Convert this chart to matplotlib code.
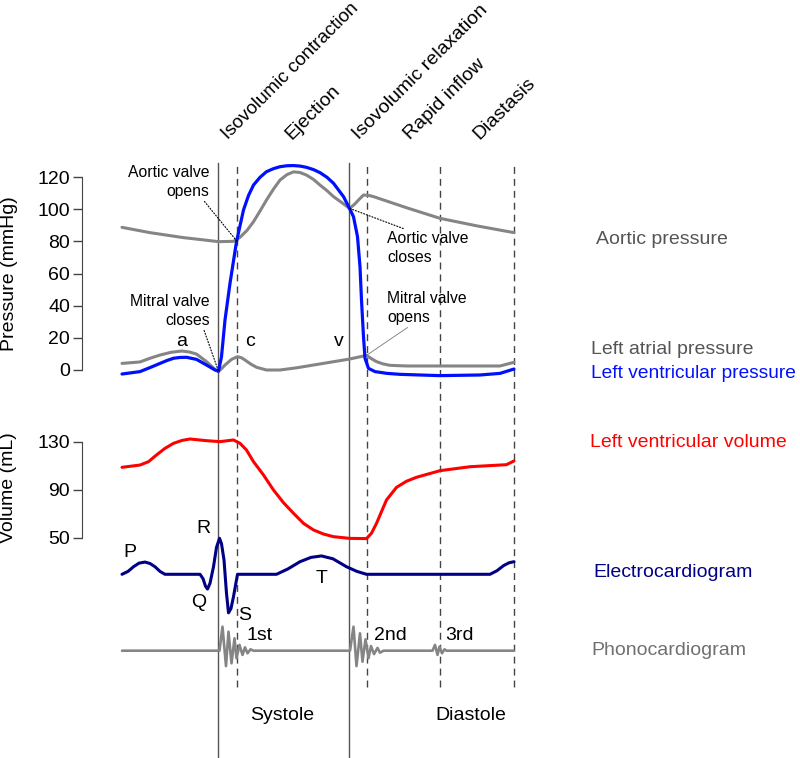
import numpy as np
import matplotlib.pyplot as plt

plt.rcParams['font.family'] = ['Liberation Sans', 'DejaVu Sans']

W, H = 800, 758
T0, T1 = -244, 1356          # time (ms) at left / right edge of the figure

GRAY = "#858585"
BLUE = "#0010ff"
RED = "#ff0000"
NAVY = "#000085"
LINE = "#555555"

# phase boundaries (ms)
t_solid = [192, 454]
t_dash = [230, 490, 636, 784]

# aortic pressure (mmHg)
ao_t = [0, 56, 123, 160, 193, 223, 236, 250, 263, 276, 289, 303, 316, 330, 343, 356,
        369, 383, 396, 410, 423, 440, 455, 465, 473, 483, 493, 503, 570, 636, 710, 784]
ao_p = [88.7, 85.4, 82.3, 81.0, 79.8, 80.0, 82.5, 86.8, 92.2, 98.8, 105.7, 112.5, 118.1,
        121.5, 123.2, 122.8, 121.2, 118.5, 115.0, 111.5, 107.8, 104.0, 100.5, 103.0,
        105.7, 108.8, 108.6, 107.8, 100.8, 94.3, 89.6, 85.4]

# left atrial pressure (mmHg)
la_t = [0, 36, 56, 76, 98, 119, 135, 149, 169, 186, 193, 199, 206, 219, 231, 239, 246,
        258, 269, 289, 316, 350, 383, 420, 455, 489, 499, 509, 522, 536, 569, 660, 756, 784]
la_p = [4.1, 5.0, 7.3, 9.3, 11.0, 11.8, 11.2, 9.9, 5.2, 0.4, -0.8, 0.8, 3.1, 6.6, 8.3,
        7.6, 6.2, 3.6, 1.7, 0.0, 0.0, 1.4, 3.1, 5.0, 6.8, 9.1, 7.0, 5.2, 3.8, 2.9, 2.5,
        2.5, 2.5, 4.8]

# left ventricular pressure (mmHg)
lv_t = [0, 36, 56, 76, 90, 103, 116, 129, 149, 169, 186, 193, 199, 206, 216, 229, 243,
        253, 263, 276, 289, 303, 316, 330, 343, 356, 369, 383, 396, 410, 423, 443, 455,
        463, 471, 476, 479, 483, 486, 493, 506, 530, 556, 636, 716, 756, 784]
lv_p = [-2.5, -1.0, 1.5, 4.1, 5.9, 7.3, 7.8, 7.9, 6.6, 3.1, 0.0, -0.8, 8.3, 31.1, 53.9,
        79.8, 99.5, 108.5, 115.0, 119.8, 123.3, 125.2, 126.4, 127.0, 127.1, 126.8, 126.0,
        124.6, 122.7, 119.8, 116.1, 107.8, 100.5, 95.3, 82.9, 64.2, 43.5, 20.7, 7.3, 1.0,
        -1.0, -2.1, -2.7, -3.5, -3.1, -2.1, 0.6]

# left ventricular volume (mL)
vol_t = [0, 36, 53, 69, 86, 103, 120, 136, 169, 196, 223, 236, 249, 263, 283, 303, 323,
         343, 363, 383, 403, 423, 455, 489, 499, 509, 519, 529, 549, 569, 589, 636, 696,
         769, 784]
vol_v = [108.9, 110.8, 113.6, 119.2, 124.7, 128.9, 131.3, 132.5, 131.1, 130.3, 131.7,
         128.9, 123.3, 113.6, 102.5, 90.0, 79.4, 70.6, 62.2, 56.7, 53.3, 51.1, 49.7, 49.5,
         54.0, 62.2, 72.0, 81.7, 92.2, 97.3, 100.6, 106.1, 109.4, 111.1, 114.2]

# electrocardiogram (arb. units)
ecg_t = [0, 12, 23, 34, 46, 56, 66, 76, 86, 156, 162, 167, 171, 176, 183, 189, 195, 199,
         204, 209, 213, 218, 223, 231, 309, 332, 356, 378, 399, 422, 449, 470, 489, 736,
         750, 763, 774, 784]
ecg_v = [0.0, 0.08, 0.21, 0.31, 0.34, 0.30, 0.21, 0.08, 0.0, 0.0, -0.12, -0.33, -0.41,
         -0.25, 0.21, 0.75, 1.0, 0.85, 0.40, -0.53, -1.07, -0.95, -0.62, 0.0, 0.0, 0.15,
         0.35, 0.47, 0.51, 0.43, 0.21, 0.08, 0.0, 0.0, 0.10, 0.24, 0.32, 0.35]

# phonocardiogram (arb. units)
pcg_t = [0, 195, 201, 208, 213, 219, 225, 229, 235, 241, 246, 251, 257, 263, 456, 463,
         469, 476, 481, 487, 493, 498, 504, 511, 516, 523, 621, 626, 631, 635, 640, 645,
         649, 784]
pcg_v = [0, 0, 1.2, -0.77, 0.95, -0.63, 0.62, -0.38, 0.29, -0.21, 0.17, -0.13, 0.07, 0,
         0, 1.2, -0.77, 0.87, -0.55, 0.57, -0.38, 0.23, -0.17, 0.14, -0.1, 0, 0, 0.29,
         -0.21, 0.2, -0.13, 0.07, 0, 0]

p_ticks = [0, 20, 40, 60, 80, 100, 120]
v_ticks = [50, 90, 130]

phases = ["Isovolumic contraction", "Ejection", "Isovolumic relaxation",
          "Rapid inflow", "Diastasis"]
phase_t = [213, 340, 474, 576, 715]
phase_fs = [13.6, 14, 14, 14, 14]


fig = plt.figure(figsize=(8, 7.58), dpi=100)


def panel(top, bottom, px_a, val_a, px_b, val_b):
    # axes spanning full width between pixel rows top..bottom
    s = (px_a - px_b) / (val_b - val_a)
    ax = fig.add_axes([0, 1 - bottom / H, 1, (bottom - top) / H])
    ax.set_xlim(T0, T1)
    ax.set_ylim(val_a - (bottom - px_a) / s, val_a + (px_a - top) / s)
    ax.patch.set_alpha(0)
    for sp in ax.spines.values():
        sp.set_visible(False)
    ax.set_xticks([])
    ax.set_yticks([])
    return ax


def yaxis(ax, ticks):
    sp = ax.spines['left']
    sp.set_visible(True)
    sp.set_position(('data', -80))
    sp.set_bounds(ticks[0], ticks[-1])
    sp.set_color("#444444")
    ax.set_yticks(ticks)
    ax.tick_params(axis='y', direction='out', length=6.5, width=1,
                   color="#444444", pad=2, labelsize=14)


# background: phase lines and labels (y in pixels from top)
bg = panel(0, H, H, 0, 0, H)
bg.set_ylim(H, 0)
for t in t_solid:
    bg.axvline(t, ymin=0, ymax=(H - 163) / H, color=LINE, lw=1.0)
for t in t_dash:
    bg.axvline(t, ymin=(H - 687) / H, ymax=(H - 163) / H, color="#444444",
               lw=1.0, ls=(0, (5, 3.6)))
for name, t, fs in zip(phases, phase_t, phase_fs):
    bg.text(t, 140, name, rotation=45, rotation_mode='anchor',
            ha='left', va='baseline', fontsize=fs)
bg.text(321, 715, "Systole", ha='center', va='center', fontsize=14)
bg.text(697, 715, "Diastole", ha='center', va='center', fontsize=14)

# pressure
pax = panel(150, 400, 370, 0, 177, 120)
yaxis(pax, p_ticks)
pax.plot(ao_t, ao_p, color=GRAY, lw=2.2, solid_capstyle='round')
pax.plot(la_t, la_p, color=GRAY, lw=2.2, solid_capstyle='round')
pax.plot(lv_t, lv_p, color=BLUE, lw=2.3, solid_capstyle='round')
for lab, t in zip(["a", "c", "v"], [119, 256, 433]):
    pax.text(t, 14.9, lab, ha='center', va='baseline', fontsize=14)

akw = dict(textcoords='figure pixels', fontsize=11.3, linespacing=1.28,
           va='center')
pax.annotate("Aortic valve\nopens", xy=(230, 80), xytext=(209.5, H - 182),
             ha='right', multialignment='right',
             arrowprops=dict(arrowstyle='-', ls=':', lw=0.8, color='k',
                             shrinkA=0, shrinkB=0, relpos=(0.91, 0)), **akw)
pax.annotate("Mitral valve\ncloses", xy=(193, -0.8), xytext=(209.5, H - 311),
             ha='right', multialignment='right',
             arrowprops=dict(arrowstyle='-', ls=':', lw=0.8, color='k',
                             shrinkA=0, shrinkB=0, relpos=(0.92, 0)), **akw)
pax.annotate("Aortic valve\ncloses", xy=(455, 100.5), xytext=(387, H - 248),
             ha='left', multialignment='left',
             arrowprops=dict(arrowstyle='-', ls=':', lw=0.8, color='k',
                             shrinkA=0, shrinkB=0, relpos=(0.29, 1)), **akw)
pax.annotate("Mitral valve\nopens", xy=(489, 9.1), xytext=(387, H - 308),
             ha='left', multialignment='left',
             arrowprops=dict(arrowstyle='-', lw=0.6, color='#777777',
                             shrinkA=0, shrinkB=0, relpos=(0.31, 0)), **akw)

# volume
vax = panel(400, 560, 538, 50, 442, 130)
yaxis(vax, v_ticks)
vax.plot(vol_t, vol_v, color=RED, lw=2.2, solid_capstyle='round')

# ECG
eax = panel(515, 635, 574.3, 0, 538.3, 1.0)
eax.plot(ecg_t, ecg_v, color=NAVY, lw=2.2, solid_capstyle='round')
for lab, t, v in zip("PRQST", [16, 163, 153, 245, 399], [0.49, 1.14, -0.9, -1.27, -0.23]):
    eax.text(t, v, lab, ha='center', va='baseline', fontsize=14)

# phonocardiogram
sax = panel(615, 700, 650.7, 0, 626.7, 1.2)
sax.plot(pcg_t, pcg_v, color=GRAY, lw=1.9, solid_capstyle='round')
for lab, t in zip(["1st", "2nd", "3rd"], [276, 536, 675]):
    sax.text(t, 0.53, lab, ha='center', va='baseline', fontsize=14)

# axis titles
fig.text(10 / W, 1 - 274 / H, "Pressure (mmHg)", rotation=90,
         ha='center', va='center', fontsize=14)
fig.text(9 / W, 1 - 488 / H, "Volume (mL)", rotation=90,
         ha='center', va='center', fontsize=14)

# right-hand curve names
names = [("Aortic pressure", 596, 240, "#555555", 14),
         ("Left atrial pressure", 591, 350, "#555555", 14),
         ("Left ventricular pressure", 591, 374, BLUE, 13.8),
         ("Left ventricular volume", 590, 442.7, RED, 14),
         ("Electrocardiogram", 593, 572.7, NAVY, 14),
         ("Phonocardiogram", 591, 650.7, "#707070", 14)]
for txt, x, y, c, fs in names:
    fig.text(x / W, 1 - y / H, txt, ha='left', va='center', fontsize=fs, color=c)

fig.savefig("out.png", dpi=100)
